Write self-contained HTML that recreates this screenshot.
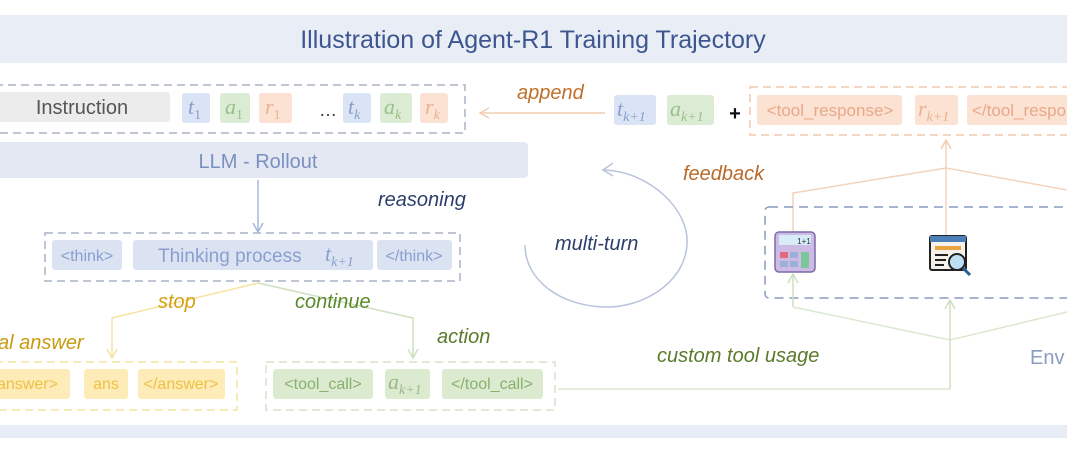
<!DOCTYPE html>
<html><head><meta charset="utf-8"><style>
html,body{margin:0;padding:0;background:#fff;}
svg{display:block}
text{font-family:"Liberation Sans",sans-serif}
.lab{font-style:italic;font-size:20px}
.m{font-family:"Liberation Serif",serif;font-style:italic;font-size:22px}
.s{font-size:14px;font-style:normal}
.si{font-size:14px}
</style></head><body>
<svg width="1067" height="453" viewBox="0 0 1067 453" xmlns="http://www.w3.org/2000/svg">
<defs>
<marker id="ao" markerWidth="12" markerHeight="12" refX="10" refY="6" orient="auto" markerUnits="userSpaceOnUse"><path d="M1,1 L10,6 L1,11" fill="none" stroke="#f3cdb0" stroke-width="1.5"/></marker>
<marker id="ab" markerWidth="12" markerHeight="12" refX="10" refY="6" orient="auto" markerUnits="userSpaceOnUse"><path d="M1,1 L10,6 L1,11" fill="none" stroke="#a8b8d8" stroke-width="1.5"/></marker>
<marker id="ag" markerWidth="12" markerHeight="12" refX="10" refY="6" orient="auto" markerUnits="userSpaceOnUse"><path d="M1,1 L10,6 L1,11" fill="none" stroke="#cfe0c0" stroke-width="1.5"/></marker>
<marker id="ay" markerWidth="12" markerHeight="12" refX="10" refY="6" orient="auto" markerUnits="userSpaceOnUse"><path d="M1,1 L10,6 L1,11" fill="none" stroke="#f6e3a0" stroke-width="1.5"/></marker>
</defs>
<rect x="0" y="15" width="1067" height="48" fill="#e9edf6"/>
<text x="533" y="48" text-anchor="middle" font-size="25" fill="#3d5690">Illustration of Agent-R1 Training Trajectory</text>
<rect x="0" y="425" width="1067" height="13" fill="#e8ecf6"/>

<rect x="-5" y="85" width="470" height="48" fill="none" stroke="#a9b3c6" stroke-width="1.5" stroke-dasharray="8,5"/>
<rect x="-5" y="92" width="175" height="30" rx="3" fill="#ececec"/>
<text x="82" y="114" text-anchor="middle" font-size="20" fill="#555">Instruction</text>
<rect x="182" y="93" width="28" height="30" rx="3" fill="#dbe4f4"/><text x="188" y="114" class="m" fill="#8a9fd0">t<tspan class="s" dy="5">1</tspan></text>
<rect x="220" y="93" width="30" height="30" rx="3" fill="#dcebd4"/><text x="225" y="114" class="m" fill="#9ac08a">a<tspan class="s" dy="5">1</tspan></text>
<rect x="259" y="93" width="33" height="30" rx="3" fill="#fbe2d3"/><text x="265" y="114" class="m" fill="#eab090">r<tspan class="s" dy="5">1</tspan></text>
<text x="328" y="116" text-anchor="middle" font-size="18" fill="#333">…</text>
<rect x="343" y="93" width="28" height="30" rx="3" fill="#dbe4f4"/><text x="348" y="114" class="m" fill="#8a9fd0">t<tspan class="si" dy="5">k</tspan></text>
<rect x="380" y="93" width="32" height="30" rx="3" fill="#dcebd4"/><text x="384" y="114" class="m" fill="#9ac08a">a<tspan class="si" dy="5">k</tspan></text>
<rect x="420" y="93" width="28" height="30" rx="3" fill="#fbe2d3"/><text x="425" y="114" class="m" fill="#eab090">r<tspan class="si" dy="5">k</tspan></text>

<line x1="605" y1="113" x2="480" y2="113" stroke="#f3cdb0" stroke-width="1.5" marker-end="url(#ao)"/>
<text x="517" y="99" class="lab" fill="#c0702a">append</text>

<rect x="614" y="95" width="42" height="30" rx="3" fill="#dbe4f4"/><text x="617" y="116" class="m" fill="#8a9fd0">t<tspan class="si" dy="5">k+1</tspan></text>
<rect x="667" y="95" width="47" height="30" rx="3" fill="#dcebd4"/><text x="670" y="116" class="m" fill="#9ac08a">a<tspan class="si" dy="5">k+1</tspan></text>
<text x="735" y="120" text-anchor="middle" font-size="20" font-weight="bold" fill="#111">+</text>
<rect x="750" y="87" width="330" height="48" fill="none" stroke="#f0c8ae" stroke-width="1.5" stroke-dasharray="8,5"/>
<rect x="757" y="95" width="145" height="30" rx="3" fill="#fbe2d3"/><text x="830" y="116" text-anchor="middle" font-size="17" fill="#eaa888">&lt;tool_response&gt;</text>
<rect x="915" y="95" width="43" height="30" rx="3" fill="#fbe2d3"/><text x="918" y="116" class="m" fill="#eab090">r<tspan class="si" dy="5">k+1</tspan></text>
<rect x="967" y="95" width="110" height="30" rx="3" fill="#fbe2d3"/><text x="972" y="116" font-size="17" fill="#eaa888">&lt;/tool_response&gt;</text>

<rect x="-5" y="142" width="533" height="36" rx="4" fill="#e3e8f3"/>
<text x="258" y="168" text-anchor="middle" font-size="20" fill="#7a90c0">LLM - Rollout</text>
<line x1="258" y1="180" x2="258" y2="232" stroke="#a8b8d8" stroke-width="1.5" marker-end="url(#ab)"/>
<text x="378" y="206" class="lab" fill="#2c3e6b">reasoning</text>

<rect x="45" y="233" width="415" height="48" fill="none" stroke="#a9b3c6" stroke-width="1.5" stroke-dasharray="8,5"/>
<rect x="52" y="240" width="70" height="30" rx="3" fill="#dbe3f3"/><text x="87" y="261" text-anchor="middle" font-size="16" fill="#8a9fd0">&lt;think&gt;</text>
<rect x="133" y="240" width="240" height="30" rx="3" fill="#dbe3f3"/><text x="158" y="262" font-size="19" fill="#8a9fd0">Thinking process</text><text x="325" y="261" class="m" fill="#8a9fd0">t<tspan class="si" dy="5">k+1</tspan></text>
<rect x="377" y="240" width="75" height="30" rx="3" fill="#dbe3f3"/><text x="414" y="261" text-anchor="middle" font-size="16" fill="#8a9fd0">&lt;/think&gt;</text>

<path d="M605,170 C 650,172 690,210 687,245 C 684,285 640,308 605,307 C 560,306 525,280 525,245" fill="none" stroke="#b8c4dc" stroke-width="1.5"/>
<path d="M613,163 L603,170 L613,176" fill="none" stroke="#b8c4dc" stroke-width="1.5"/>
<text x="555" y="250" class="lab" fill="#2c3e6b">multi-turn</text>
<text x="683" y="180" class="lab" fill="#b86a2a">feedback</text>

<polyline points="793,240 793,193 946,168 1067,190" fill="none" stroke="#f3d3bd" stroke-width="1.5"/>
<line x1="946" y1="235" x2="946" y2="140" stroke="#f3d3bd" stroke-width="1.5" marker-end="url(#ao)"/>

<rect x="765" y="207" width="320" height="91" rx="4" fill="none" stroke="#8a9cc0" stroke-width="1.5" stroke-dasharray="9,6"/>
<g transform="translate(775,232)">
<rect x="0" y="0" width="40" height="40" rx="4" fill="#cdbbe6" stroke="#7b6aa8" stroke-width="1.5"/>
<rect x="4" y="3" width="32" height="10" fill="#d6ecf8"/>
<text x="29" y="12" font-size="8" text-anchor="middle" fill="#333">1+1</text>
<rect x="5" y="20" width="8" height="6" fill="#e36a7a"/><rect x="15" y="20" width="8" height="6" fill="#9bb0d8"/><rect x="26" y="20" width="8" height="16" fill="#7cc69c"/>
<rect x="5" y="29" width="8" height="6" fill="#9bb0d8"/><rect x="15" y="29" width="8" height="6" fill="#9bb0d8"/>
</g>
<g transform="translate(930,236)">
<rect x="0" y="0" width="36" height="34" rx="2" fill="#f4f2ea" stroke="#222" stroke-width="2"/>
<rect x="0" y="0" width="36" height="6" fill="#4b7fb8"/>
<rect x="5" y="10" width="26" height="4" fill="#e8a440"/>
<line x1="5" y1="19" x2="18" y2="19" stroke="#222" stroke-width="2"/><line x1="5" y1="24" x2="16" y2="24" stroke="#222" stroke-width="2"/><line x1="5" y1="29" x2="14" y2="29" stroke="#222" stroke-width="2"/>
<circle cx="27" cy="26" r="8" fill="#bfe0f4" stroke="#222" stroke-width="2"/>
<line x1="33" y1="32" x2="40" y2="39" stroke="#2a5c90" stroke-width="3"/>
</g>
<text x="1030" y="364" font-size="20" fill="#8a9cc0">Env</text>

<polyline points="793,307 950,340 1067,312" fill="none" stroke="#dbe8d0" stroke-width="1.5"/>
<line x1="793" y1="307" x2="793" y2="274" stroke="#cfe0c0" stroke-width="1.5" marker-end="url(#ag)"/>
<line x1="558" y1="389" x2="950" y2="389" stroke="#dbe8d0" stroke-width="1.5"/>
<line x1="950" y1="389" x2="950" y2="300" stroke="#cfe0c0" stroke-width="1.5" marker-end="url(#ag)"/>
<text x="657" y="362" class="lab" fill="#5a7a2a">custom tool usage</text>

<polyline points="258,283 112,318 112,358" fill="none" stroke="#f6e3a0" stroke-width="1.5" marker-end="url(#ay)"/>
<polyline points="258,283 413,318 413,358" fill="none" stroke="#cfe0c0" stroke-width="1.5" marker-end="url(#ag)"/>
<text x="158" y="308" class="lab" fill="#d4a017">stop</text>
<text x="295" y="308" class="lab" fill="#5a8a2a">continue</text>
<text x="-2" y="349" class="lab" fill="#c89a10">al answer</text>
<text x="437" y="343" class="lab" fill="#5a7a2a">action</text>

<rect x="-5" y="362" width="242" height="48" fill="none" stroke="#f6e3a0" stroke-width="1.5" stroke-dasharray="8,5"/>
<rect x="-5" y="369" width="75" height="30" rx="3" fill="#fdebb8"/><text x="-3" y="389" font-size="16" fill="#f0c040">answer&gt;</text>
<rect x="84" y="369" width="44" height="30" rx="3" fill="#fdebb8"/><text x="106" y="389" text-anchor="middle" font-size="16" fill="#f0c040">ans</text>
<rect x="138" y="369" width="87" height="30" rx="3" fill="#fdebb8"/><text x="181" y="389" text-anchor="middle" font-size="16" fill="#f0c040">&lt;/answer&gt;</text>

<rect x="266" y="362" width="289" height="48" fill="none" stroke="#d6e4cc" stroke-width="1.5" stroke-dasharray="8,5"/>
<rect x="273" y="369" width="100" height="30" rx="3" fill="#dcebd0"/><text x="323" y="389" text-anchor="middle" font-size="16" fill="#8ab070">&lt;tool_call&gt;</text>
<rect x="385" y="369" width="45" height="30" rx="3" fill="#dcebd0"/><text x="388" y="389" class="m" fill="#9ab88a">a<tspan class="si" dy="5">k+1</tspan></text>
<rect x="442" y="369" width="101" height="30" rx="3" fill="#dcebd0"/><text x="492" y="389" text-anchor="middle" font-size="16" fill="#8ab070">&lt;/tool_call&gt;</text>
</svg>
</body></html>
